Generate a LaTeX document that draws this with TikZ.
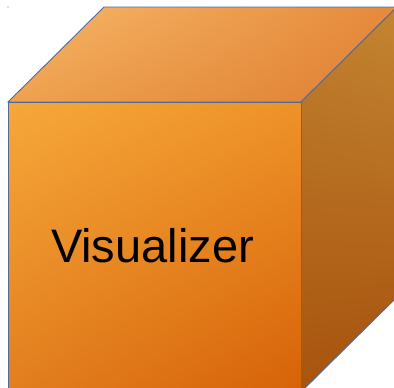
\documentclass[tikz,border=0pt]{standalone}
\usepackage{fontspec}
\setmainfont{Liberation Sans}
\usetikzlibrary{shadings}
\definecolor{edgeblue}{RGB}{84,106,150}
\definecolor{topUL}{RGB}{247,184,104}
\definecolor{topUR}{RGB}{230,138,60}
\definecolor{topLL}{RGB}{238,162,78}
\definecolor{topLR}{RGB}{222,126,52}
\definecolor{sideUL}{RGB}{192,128,46}
\definecolor{sideUR}{RGB}{196,134,50}
\definecolor{sideLL}{RGB}{168,84,14}
\definecolor{sideLR}{RGB}{166,80,12}
\definecolor{frontUL}{RGB}{246,168,58}
\definecolor{frontUR}{RGB}{238,146,40}
\definecolor{frontLL}{RGB}{226,126,30}
\definecolor{frontLR}{RGB}{214,98,8}
\begin{document}
\begin{tikzpicture}[x=1pt, y=-1pt,
    face/.style={draw=edgeblue, line width=0.9pt, line join=miter},
    label/.style={font=\fontsize{47}{56}\selectfont, text=black, inner sep=0pt}]
  \useasboundingbox (0,0) rectangle (394,388);
  \clip (0,0) rectangle (394,388);
  % corners of the box
  \coordinate (fa) at (8,102);
  \coordinate (fb) at (301,102);
  \coordinate (fc) at (301,392);
  \coordinate (fd) at (8,392);
  \coordinate (ba) at (104,7);
  \coordinate (bb) at (397,7);
  \coordinate (bc) at (397,297);

  % top face
  \shade[face, upper left=topUL, upper right=topUR, lower left=topLL, lower right=topLR]
    (fa) -- (ba) -- (bb) -- (fb) -- cycle;
  % right face
  \shade[face, upper left=sideUL, upper right=sideUR, lower left=sideLL, lower right=sideLR]
    (fb) -- (bb) -- (bc) -- (fc) -- cycle;
  % front face
  \shade[face, upper left=frontUL, upper right=frontUR, lower left=frontLL, lower right=frontLR]
    (fa) -- (fb) -- (fc) -- (fd) -- cycle;

  \fill[edgeblue] (8,7) circle (0.7pt);
  \node[label] (vis) at (152.5,246) {Visualizer};
\end{tikzpicture}
\end{document}
